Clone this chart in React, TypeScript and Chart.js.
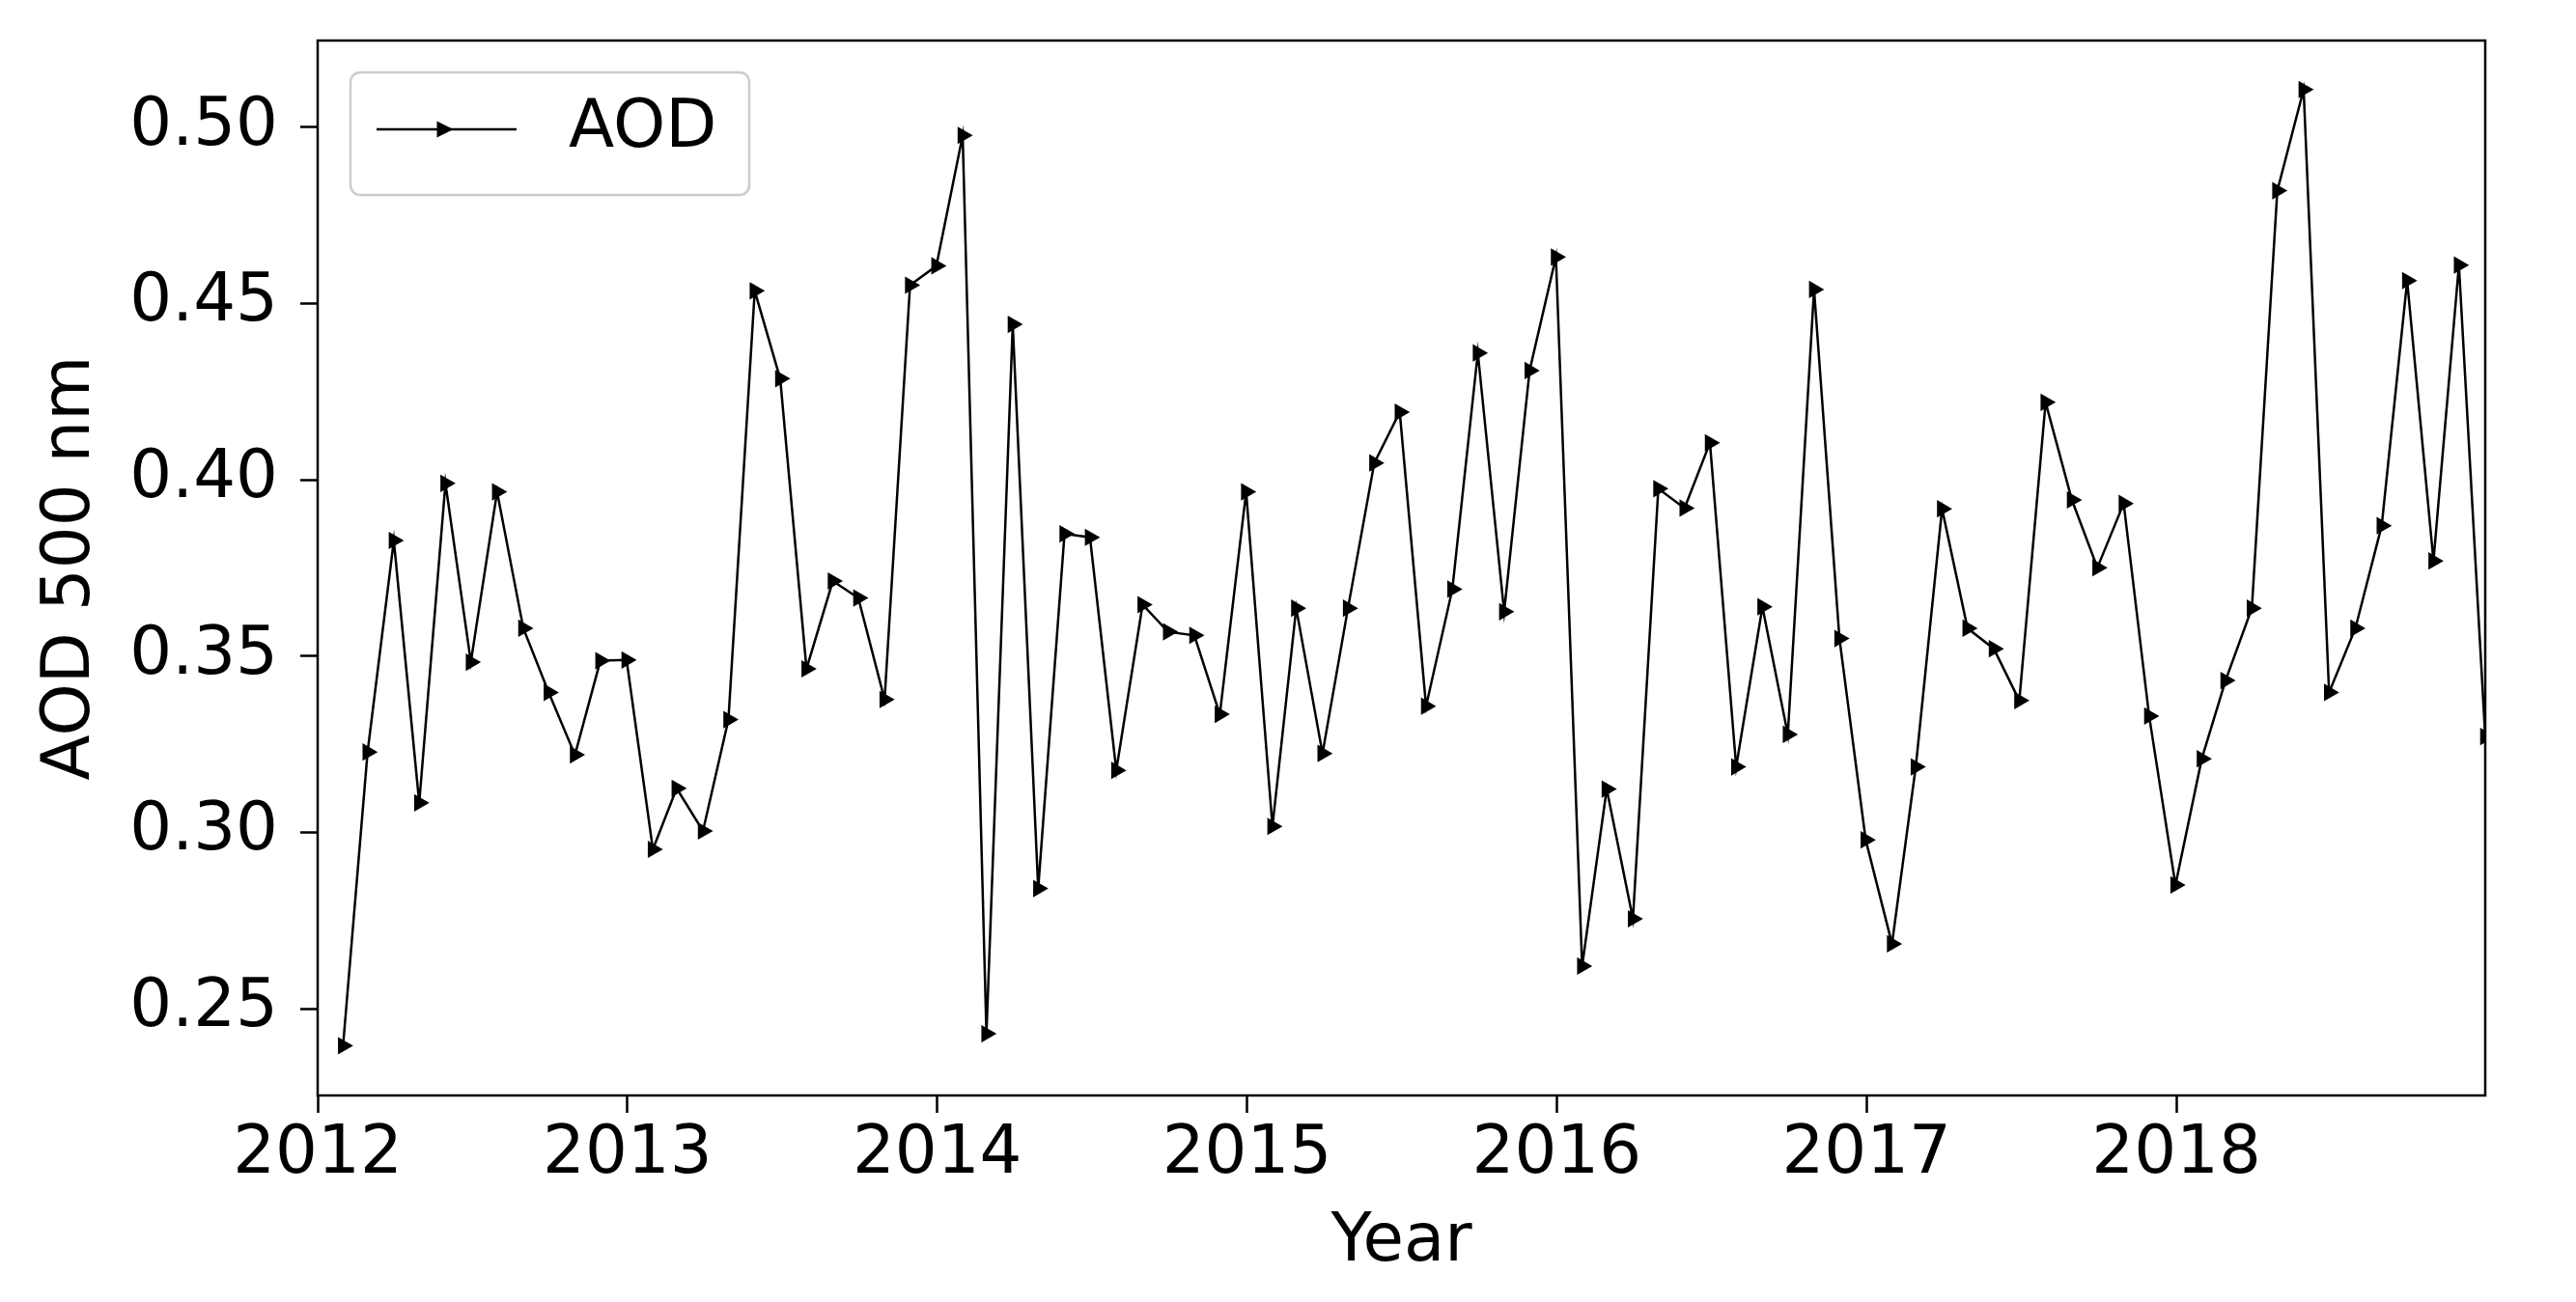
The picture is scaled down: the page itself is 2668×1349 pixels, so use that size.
import React, { useEffect, useRef } from 'react';
import { Chart, registerables } from 'chart.js';

Chart.register(...registerables);

// ---- data (monthly mean AOD at 500 nm, month-end dates) ----
const YEARS = [2012, 2013, 2014, 2015, 2016, 2017, 2018];
const AOD_2012 = [0.2395, 0.3228, 0.3828, 0.3084, 0.399, 0.3483, 0.3966, 0.3579, 0.3397, 0.322, 0.3487, 0.3489];
const AOD_2013 = [0.2952, 0.3125, 0.3004, 0.332, 0.4536, 0.4287, 0.3464, 0.3713, 0.3665, 0.3377, 0.4552, 0.4607];
const AOD_2014 = [0.4977, 0.2429, 0.4441, 0.2841, 0.3847, 0.3837, 0.3176, 0.3646, 0.3569, 0.3559, 0.3335, 0.3966];
const AOD_2015 = [0.3017, 0.3636, 0.3224, 0.3636, 0.4048, 0.4192, 0.3358, 0.369, 0.436, 0.3626, 0.431, 0.4632];
const AOD_2016 = [0.2621, 0.3123, 0.2755, 0.3975, 0.392, 0.4105, 0.3186, 0.364, 0.3278, 0.454, 0.355, 0.2979];
const AOD_2017 = [0.2684, 0.3186, 0.3918, 0.3579, 0.3521, 0.3374, 0.422, 0.3943, 0.3751, 0.3933, 0.333, 0.2851];
const AOD_2018 = [0.3209, 0.3431, 0.3636, 0.482, 0.5107, 0.3397, 0.3579, 0.387, 0.4565, 0.377, 0.4609, 0.3272];
const AOD_BY_YEAR = [AOD_2012, AOD_2013, AOD_2014, AOD_2015, AOD_2016, AOD_2017, AOD_2018];

const SERIES_LABEL = 'AOD';
const X_TITLE = 'Year';
const Y_TITLE = 'AOD 500 nm';
const X_TICKS = [2012, 2013, 2014, 2015, 2016, 2017, 2018];
const Y_TICKS = [0.25, 0.3, 0.35, 0.4, 0.45, 0.5];
const Y_MIN = 0.2254;
const Y_MAX = 0.5246;

const FONT = "'DejaVu Sans', 'Liberation Sans', sans-serif";

// decimal-year position of the last day of a month
function monthEndYear(year: number, monthIndex: number): number {
  const start = Date.UTC(year, 0, 1);
  const end = Date.UTC(year + 1, 0, 1);
  const d = Date.UTC(year, monthIndex + 1, 0);
  return year + (d - start) / (end - start);
}

const POINTS: { x: number; y: number }[] = [];
YEARS.forEach((yr, i) => {
  AOD_BY_YEAR[i].forEach((v, m) => POINTS.push({ x: monthEndYear(yr, m), y: v }));
});
const X_MIN = YEARS[0];
const X_MAX = POINTS[POINTS.length - 1].x;

const framePlugin = {
  id: 'axesFrame',
  afterDatasetsDraw(chart: any) {
    const { ctx, chartArea } = chart;
    ctx.save();
    ctx.lineWidth = 2.5;
    ctx.strokeStyle = '#000';
    ctx.strokeRect(chartArea.left, chartArea.top, chartArea.right - chartArea.left, chartArea.bottom - chartArea.top);
    ctx.restore();
  },
};

const legendPlugin = {
  id: 'mplLegend',
  afterDraw(chart: any) {
    const { ctx, chartArea } = chart;
    const label = chart.data.datasets[0].label;
    const x0 = chartArea.left + 34;
    const y0 = chartArea.top + 33;
    const w = 413;
    const h = 127;
    ctx.save();
    ctx.beginPath();
    if (ctx.roundRect) ctx.roundRect(x0, y0, w, h, 10);
    else ctx.rect(x0, y0, w, h);
    ctx.fillStyle = 'rgba(255,255,255,0.8)';
    ctx.fill();
    ctx.lineWidth = 2.5;
    ctx.strokeStyle = '#cccccc';
    ctx.stroke();
    const ly = y0 + 59;
    ctx.beginPath();
    ctx.moveTo(x0 + 27, ly);
    ctx.lineTo(x0 + 172, ly);
    ctx.lineWidth = 2.5;
    ctx.strokeStyle = '#000';
    ctx.stroke();
    const mx = x0 + 98;
    ctx.beginPath();
    ctx.moveTo(mx + 8.5, ly);
    ctx.lineTo(mx - 8.5, ly - 8.5);
    ctx.lineTo(mx - 8.5, ly + 8.5);
    ctx.closePath();
    ctx.fillStyle = '#000';
    ctx.fill();
    ctx.font = `69px ${FONT}`;
    ctx.textBaseline = 'middle';
    ctx.textAlign = 'left';
    ctx.fillText(label, x0 + 226, ly);
    ctx.restore();
  },
};

export default function App() {
  const ref = useRef<HTMLCanvasElement>(null);

  useEffect(() => {
    if (!ref.current) return;
    const tickFont = { family: FONT, size: 69 };
    const chart = new Chart(ref.current, {
      type: 'line',
      data: {
        datasets: [
          {
            label: SERIES_LABEL,
            data: POINTS,
            borderColor: '#000',
            borderWidth: 2.5,
            backgroundColor: '#000',
            pointStyle: 'triangle',
            rotation: 90,
            pointRadius: 10.5,
            pointHoverRadius: 10.5,
            pointBackgroundColor: '#000',
            pointBorderWidth: 0,
            tension: 0,
            fill: false,
            clip: 0,
          } as any,
        ],
      },
      options: {
        responsive: false,
        animation: false,
        devicePixelRatio: 1,
        events: [],
        layout: { padding: { top: 42, right: 94, left: 0, bottom: 0 } },
        plugins: {
          legend: { display: false },
          tooltip: { enabled: false },
        },
        scales: {
          x: {
            type: 'linear',
            min: X_MIN,
            max: X_MAX,
            afterBuildTicks: (s: any) => {
              s.ticks = X_TICKS.map((v) => ({ value: v }));
            },
            afterFit: (s: any) => {
              s.height = 214;
              s.paddingLeft = 0;
              s.paddingRight = 0;
              s.paddingTop = 0;
              s.paddingBottom = 0;
            },
            grid: { drawOnChartArea: false, drawTicks: true, tickLength: 18, tickWidth: 2.5, tickColor: '#000' },
            border: { display: false },
            ticks: {
              color: '#000',
              font: tickFont,
              padding: 3,
              maxRotation: 0,
              autoSkip: false,
              callback: (v: any) => String(v),
            },
            title: {
              display: true,
              text: X_TITLE,
              color: '#000',
              font: tickFont,
              padding: { top: 0, bottom: 20 },
            },
          },
          y: {
            type: 'linear',
            min: Y_MIN,
            max: Y_MAX,
            afterBuildTicks: (s: any) => {
              s.ticks = Y_TICKS.map((v) => ({ value: v }));
            },
            afterFit: (s: any) => {
              s.width = 329;
              s.paddingLeft = 0;
              s.paddingRight = 0;
              s.paddingTop = 0;
              s.paddingBottom = 0;
            },
            grid: { drawOnChartArea: false, drawTicks: true, tickLength: 18, tickWidth: 2.5, tickColor: '#000' },
            border: { display: false },
            ticks: {
              color: '#000',
              font: tickFont,
              padding: 23,
              callback: (v: any) => Number(v).toFixed(2),
            },
            title: {
              display: true,
              text: Y_TITLE,
              color: '#000',
              font: tickFont,
              padding: { top: 33, bottom: 0 },
            },
          },
        },
      },
      plugins: [framePlugin, legendPlugin],
    });
    return () => chart.destroy();
  }, []);

  return (
    <div style={{ position: 'fixed', left: 0, top: 0, width: 2668, height: 1349, background: '#fff' }}>
      <canvas ref={ref} width={2668} height={1349} style={{ width: 2668, height: 1349, display: 'block' }} />
    </div>
  );
}
